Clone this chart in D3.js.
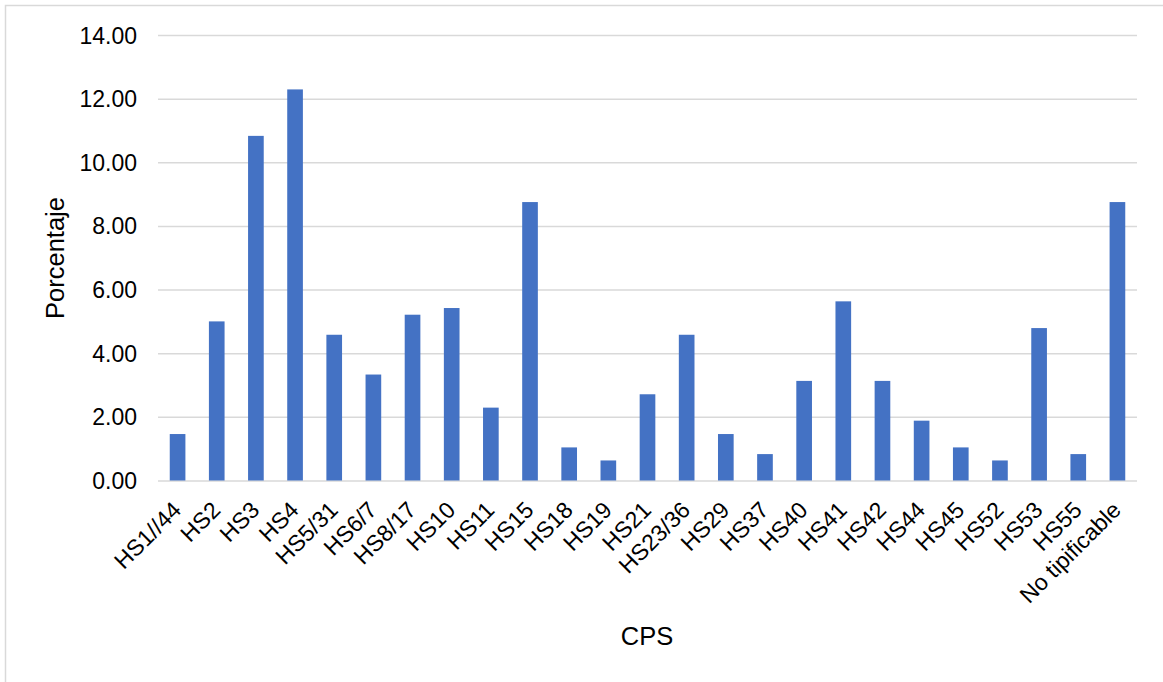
<!DOCTYPE html>
<html>
<head>
<meta charset="utf-8">
<script src="https://cdn.jsdelivr.net/npm/d3@7"></script>
<style>
  html, body { margin: 0; padding: 0; background: #ffffff; }
  svg { display: block; font-family: "Liberation Sans", Arial, sans-serif; }
</style>
</head>
<body>
<svg id="chart" width="1163" height="682"></svg>
<script>
// CPS categories and their share (%)
const categories = [
  "HS1//44", "HS2", "HS3", "HS4", "HS5/31", "HS6/7", "HS8/17", "HS10", "HS11",
  "HS15", "HS18", "HS19", "HS21", "HS23/36", "HS29", "HS37", "HS40", "HS41",
  "HS42", "HS44", "HS45", "HS52", "HS53", "HS55", "No tipificable"
];
const percentages = [
  1.46, 5.00, 10.83, 12.29, 4.58, 3.33, 5.21, 5.42, 2.29,
  8.75, 1.04, 0.63, 2.71, 4.58, 1.46, 0.83, 3.13, 5.63,
  3.13, 1.88, 1.04, 0.63, 4.79, 0.83, 8.75
];
const yTicks = [0, 2, 4, 6, 8, 10, 12, 14];
const xTitle = "CPS";
const yTitle = "Porcentaje";

const svg = d3.select("#chart");
const W = 1163, H = 682;

// outer chart frame
svg.append("rect")
  .attr("x", 5.5).attr("y", 5.5)
  .attr("width", W + 10).attr("height", H + 10)
  .attr("fill", "#ffffff")
  .attr("stroke", "#d9d9d9")
  .attr("stroke-width", 1.5);

const plot = { left: 158, right: 1137, top: 35, bottom: 480.5 };

const x = d3.scaleBand()
  .domain(categories)
  .range([plot.left, plot.right])
  .paddingInner(0.6)
  .paddingOuter(0.3);

const y = d3.scaleLinear()
  .domain([0, 14])
  .range([plot.bottom, plot.top]);

// horizontal gridlines
const yAxis = d3.axisLeft(y)
  .tickValues(yTicks)
  .tickSize(-(plot.right - plot.left))
  .tickPadding(21)
  .tickFormat(d3.format(".2f"));

const gy = svg.append("g")
  .attr("transform", `translate(${plot.left},0)`)
  .call(yAxis);
gy.select(".domain").remove();
gy.selectAll(".tick line")
  .attr("stroke", "#d9d9d9")
  .attr("stroke-width", 1.5);
gy.selectAll(".tick text")
  .attr("fill", "#000000")
  .style("font-size", "23px")
  .attr("dy", "0.35em");

// bars
svg.append("g")
  .selectAll("rect")
  .data(percentages)
  .join("rect")
  .attr("x", (d, i) => x(categories[i]))
  .attr("y", d => y(d))
  .attr("width", x.bandwidth())
  .attr("height", d => y(0) - y(d))
  .attr("fill", "#4472c4");

// category labels, rotated
const xAxis = d3.axisBottom(x).tickSize(0).tickPadding(0);
const gx = svg.append("g")
  .attr("transform", `translate(0,${plot.bottom})`)
  .call(xAxis);
gx.select(".domain").remove();
gx.selectAll(".tick text")
  .attr("fill", "#000000")
  .style("font-size", "23px")
  .attr("text-anchor", "end")
  .attr("dy", null)
  .attr("y", null)
  .attr("transform", "translate(5,31) rotate(-45)");

// axis titles
svg.append("text")
  .attr("x", 647)
  .attr("y", 645)
  .attr("text-anchor", "middle")
  .style("font-size", "25.5px")
  .attr("fill", "#000000")
  .text(xTitle);

svg.append("text")
  .attr("transform", "translate(64,258) rotate(-90)")
  .attr("text-anchor", "middle")
  .style("font-size", "25.5px")
  .attr("fill", "#000000")
  .text(yTitle);
</script>
</body>
</html>
